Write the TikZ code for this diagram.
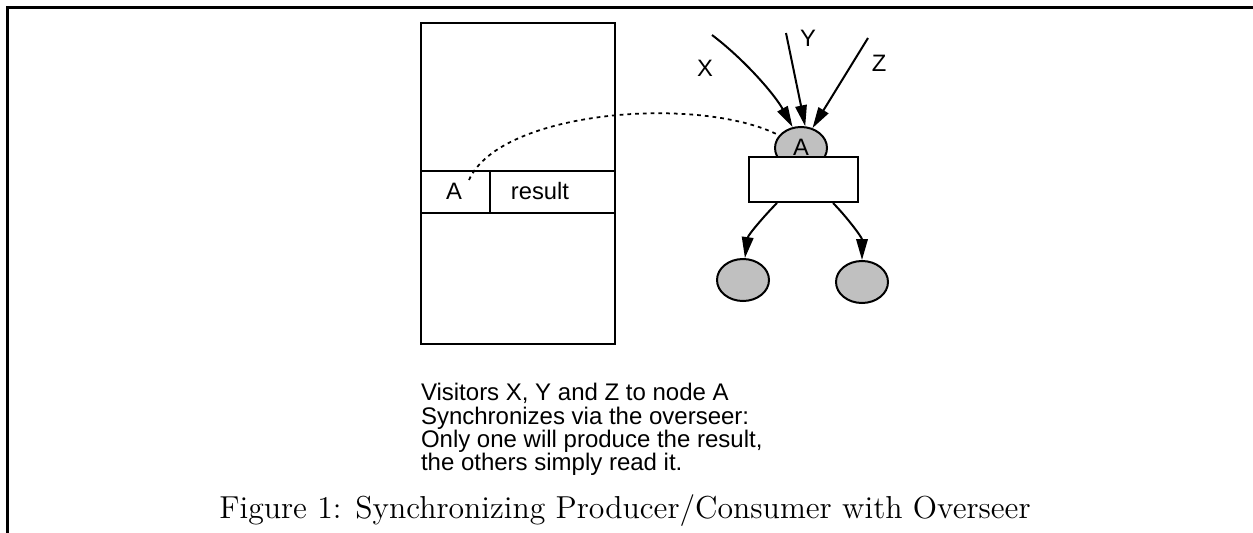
\documentclass[tikz,border=0pt]{standalone}
\usepackage{fontspec}
\newfontfamily\helv{Liberation Sans}
\usetikzlibrary{arrows.meta,shapes.geometric}
\definecolor{nodegray}{RGB}{192,192,192}
\begin{document}
\begin{tikzpicture}[x=0.4pt,y=-0.4pt,
  line width=0.8pt,
  sans/.style={font=\helv\fontsize{9.5}{9.3}\selectfont, inner sep=0pt},
  note/.style={font=\helv\fontsize{9.6}{9.3}\selectfont, inner sep=0pt, anchor=base west},
  graphnode/.style={ellipse, draw, fill=nodegray, minimum width=20.8pt,
    minimum height=16.8pt, inner sep=0pt},
  boxnode/.style={rectangle, draw, fill=white, inner sep=0pt},
  arr/.style={-{Triangle[length=8.4pt,width=4.6pt]}},
  link/.style={line width=0.7pt, dash pattern=on 1.5pt off 1.6pt},
  ]
\useasboundingbox (0,0) rectangle (1253,533);

% page frame
\draw[line width=1.1pt] (7.5,533) -- (7.5,7.5) -- (1253,7.5);

% memory block with one table row
\node[boxnode, minimum width=77.6pt, minimum height=128.4pt] (mem) at (518,183.5) {};
\draw (mem.west |- 0,171) -- (mem.east |- 0,171);
\draw (mem.west |- 0,213) -- (mem.east |- 0,213);
\draw (490,171) -- (490,213);
\node[sans, anchor=base] (cellA) at (454,199) {A};
\node[sans, anchor=base] (cellR) at (540,199) {result};

% graph node A under its overseer
\node[graphnode] (a) at (801,148) {};
\node[sans, anchor=base] (alabel) at (801,155) {A};
\node[boxnode, minimum width=43.6pt, minimum height=18pt] (ov) at (803.5,179.5) {};

% children
\node[graphnode] (c1) at (743,280) {};
\node[graphnode] (c2) at (862,282) {};

% visitors
\coordinate (xs) at (712,35);
\coordinate (ys) at (786,33);
\coordinate (zs) at (868,38);
\node[sans] (xl) at (705,68) {X};
\node[sans] (yl) at (808,38) {Y};
\node[sans] (zl) at (879,63) {Z};
\draw[arr] (xs) .. controls (745,60) and (775,95) .. (a.112);
\draw[arr] (ys) -- (a.79);
\draw[arr] (zs) -- (a.60);

% overseer to children
\draw[arr] (ov.south west -| 777,0) .. controls (765,215) and (748,235) .. (c1.85);
\draw[arr] (ov.south west -| 833,0) .. controls (845,215) and (862,237) .. (c2.90);

% link from the table entry to node A
\coordinate (dstart) at (469,180);
\draw[link] (dstart) .. controls (500,110) and (700,95) .. (a.150);

% note and caption
\node[note] (n1) at (420,400.7) {Visitors X, Y and Z to node A};
\node[note] (n2) at (420,424) {Synchronizes via the overseer:};
\node[note] (n3) at (420,447) {Only one will produce the result,};
\node[note] (n4) at (420,470) {the others simply read it.};
\node[font=\fontsize{12.7}{15}\selectfont, anchor=base, inner sep=0pt] (cap) at (625,518)
  {Figure 1: Synchronizing Producer/Consumer with Overseer};
\end{tikzpicture}
\end{document}
